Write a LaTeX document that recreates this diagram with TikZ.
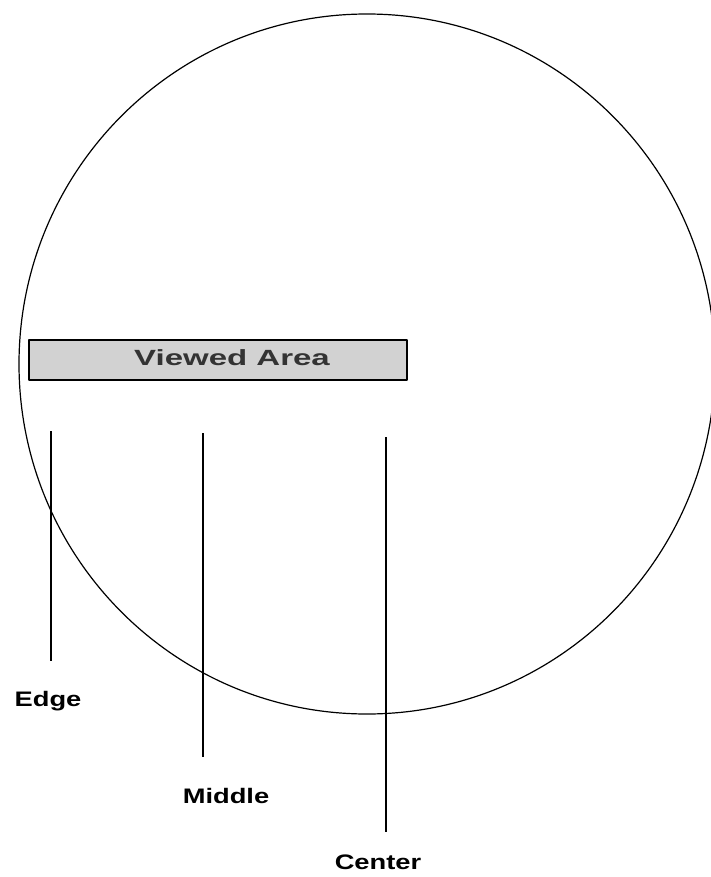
\documentclass[tikz,border=0pt]{standalone}
\usepackage{fontspec}
\setmainfont{Liberation Sans}
\begin{document}
\begin{tikzpicture}[x=1pt, y=-1pt, line join=round, line cap=butt,
    font=\bfseries\fontsize{21}{23}\selectfont]
  \useasboundingbox (0,0) rectangle (711,877);
  \path (367,364) coordinate (O);
  \draw[line width=1.2pt] (O) circle [x radius=348pt, y radius=350pt];
  \node[draw, line width=1.6pt, fill=gray!35, minimum width=378pt, minimum height=40pt, inner sep=0pt] (view) at (218,360) {};
  \node[text=gray!40!black, xscale=1.5, font=\bfseries\fontsize{22}{23}\selectfont] (viewtxt) at (232,358) {Viewed Area};
  \foreach \n/\x/\t/\b/\lx/\ly/\txt in {edge/51/431/661/48/701/Edge, mid/203/433/757/226/796/Middle, ctr/386/437/832/378/862/Center}{
    \path (\x,\t) coordinate (\n top) (\x,\b) coordinate (\n bot);
    \node[xscale=1.3] (\n) at (\lx,\ly) {\txt};
    \draw[line width=2pt] (\n top) -- (\n bot);
  }
\end{tikzpicture}
\end{document}
